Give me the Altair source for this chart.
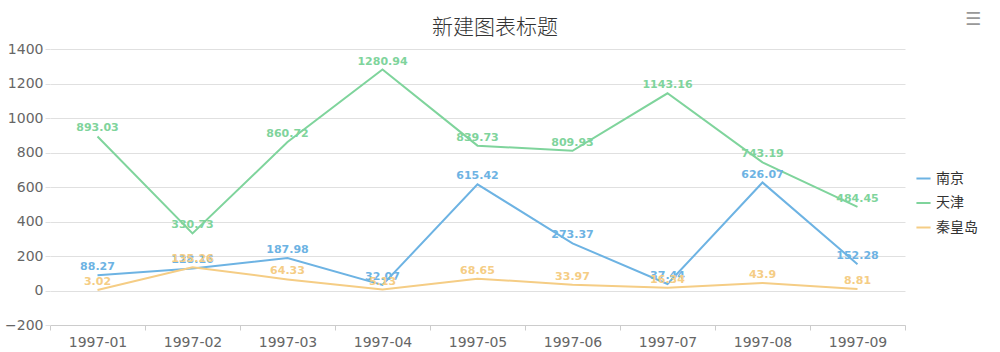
import altair as alt
import pandas as pd

months = ["1997-01", "1997-02", "1997-03", "1997-04", "1997-05",
          "1997-06", "1997-07", "1997-08", "1997-09"]
series = ["南京", "天津", "秦皇岛"]
nanjing = [88.27, 128.16, 187.98, 32.07, 615.42, 273.37, 37.44, 626.07, 152.28]
tianjin = [893.03, 330.73, 860.72, 1280.94, 839.73, 809.93, 1143.16, 743.19, 484.45]
qinhuangdao = [3.02, 135.26, 64.33, 5.13, 68.65, 33.97, 16.34, 43.9, 8.81]
colors = ["#6db3e3", "#7fd49c", "#f5cd85"]
y_ticks = [-200, 0, 200, 400, 600, 800, 1000, 1200, 1400]
title_text = "新建图表标题"

rows = []
for s, vals in zip(series, [nanjing, tianjin, qinhuangdao]):
    for m, v in zip(months, vals):
        rows.append({"month": m, "city": s, "value": v, "label": f"{v:g}"})
df = pd.DataFrame(rows)

x = alt.X("month:N", bandPosition=0.5,
          scale=alt.Scale(type="band", paddingInner=0, paddingOuter=0, domain=months),
          axis=alt.Axis(title=None, labelAngle=0, tickBand="extent", tickSize=5,
                        domainColor="#cccccc", tickColor="#cccccc", grid=False,
                        labelFont="DejaVu Sans", labelFontSize=14, labelColor="#666666",
                        labelPadding=5))
y = alt.Y("value:Q",
          scale=alt.Scale(domain=[-200, 1400], nice=False, zero=False),
          axis=alt.Axis(title=None, values=y_ticks, format="d", domain=False, tickSize=5,
                        tickColor="#e0e0e0", gridColor="#e0e0e0",
                        labelFont="DejaVu Sans", labelFontSize=14, labelColor="#666666",
                        labelPadding=2))
color = alt.Color("city:N", scale=alt.Scale(domain=series, range=colors),
                  legend=alt.Legend(title=None, orient="none", legendX=865, legendY=121,
                                    symbolType="stroke", symbolStrokeWidth=2,
                                    symbolSize=200, labelFont="Noto Sans CJK SC",
                                    labelFontSize=14, labelColor="#333333",
                                    rowPadding=8.5))

lines = alt.Chart(df).mark_line(strokeWidth=2).encode(x=x, y=y, color=color)
labels = alt.Chart(df).mark_text(dy=-8, fontSize=11, fontWeight="bold",
                                 font="DejaVu Sans").encode(
    x=x, y=y, text="label:N",
    color=alt.Color("city:N", scale=alt.Scale(domain=series, range=colors), legend=None))
title = alt.Chart(pd.DataFrame({"t": [title_text]})).mark_text(
    fontSize=21, color="#333333", font="Noto Sans CJK SC", fontWeight=300,
    align="center", baseline="middle").encode(
    text="t:N", x=alt.value(445), y=alt.value(-21))
icon = alt.Chart(pd.DataFrame({"t": ["☰"]})).mark_text(
    fontSize=18, color="#999999", font="DejaVu Sans").encode(
    text="t:N", x=alt.value(923), y=alt.value(-29))

chart = alt.layer(lines, labels, title, icon).properties(
    width=855, height=276,
    padding={"left": 50, "top": 49, "right": 95, "bottom": 27},
    autosize=alt.AutoSizeParams(type="none"),
    background="white",
).configure_view(strokeWidth=0, stroke="transparent")

chart.save("out.html", embed_options={"renderer": "svg", "actions": False})
